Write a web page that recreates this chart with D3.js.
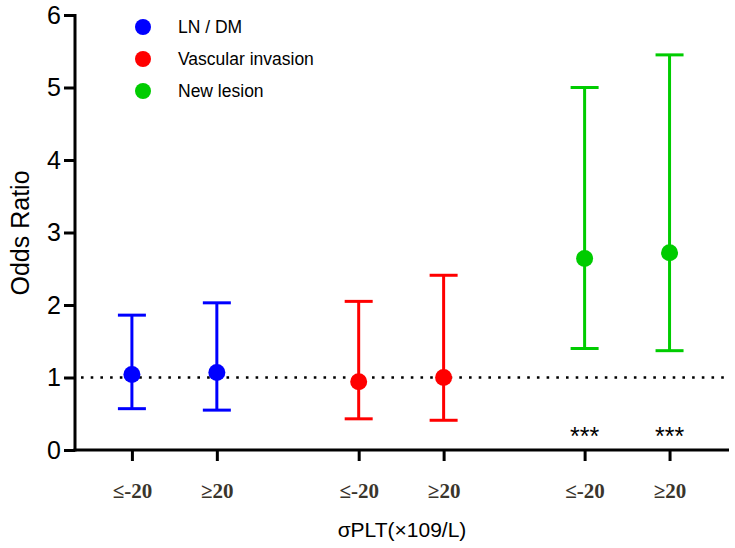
<!DOCTYPE html>
<html><head><meta charset="utf-8">
<script src="https://cdn.jsdelivr.net/npm/d3@7"></script>
<style>body{margin:0;background:#fff;}svg{display:block;}</style>
</head><body>
<script>
const categories = ["≤-20","≥20","≤-20","≥20","≤-20","≥20"];
const xPositions = [1, 2, 3.67, 4.67, 6.33, 7.33];
const seriesNames = ["LN / DM","Vascular invasion","New lesion"];
const seriesColors = ["#0000ff","#ff0000","#00cc00"];
const seriesIndex = [0,0,1,1,2,2];
const orValues = [1.04, 1.07, 0.94, 1.00, 2.64, 2.72];
const lowerCI = [0.57, 0.55, 0.43, 0.41, 1.40, 1.37];
const upperCI = [1.86, 2.03, 2.05, 2.41, 5.00, 5.45];
const stars = ["","","","","***","***"];
const yTicks = [0,1,2,3,4,5,6];

const W=735,H=548;
const sans="Arial, 'Liberation Sans', sans-serif";
const svg=d3.select("body").append("svg").attr("width",W).attr("height",H);
const x=d3.scaleLinear().domain([0.33,8.03]).range([75,729]);
const y=d3.scaleLinear().domain([0,6]).range([450,15]);

// reference line
svg.append("line").attr("x1",x(0.33)+6).attr("x2",x(8.03)).attr("y1",y(1)).attr("y2",y(1))
  .attr("stroke","#000").attr("stroke-width",2.6).attr("stroke-dasharray","2.6,7.1");

// y axis
const yAx=svg.append("g").attr("transform","translate(75,0)")
  .call(d3.axisLeft(y).tickValues(yTicks).tickFormat(d3.format("d")).tickSize(11).tickPadding(3));
yAx.select(".domain").attr("stroke-width",3).attr("d","M0,"+(y(6)-1)+"V"+(y(0)+1.5));
yAx.selectAll(".tick line").attr("stroke-width",3);
yAx.selectAll("text").attr("font-family",sans).attr("font-size",25).attr("fill","#000");

// x axis
const xAx=svg.append("g").attr("transform","translate(0,450)")
  .call(d3.axisBottom(x).tickValues(xPositions).tickFormat((d,i)=>categories[i]).tickSize(11).tickPadding(22));
xAx.select(".domain").attr("stroke-width",3).attr("d","M73.5,0H729");
xAx.selectAll(".tick line").attr("stroke-width",3);
xAx.selectAll("text").attr("font-family","'Times New Roman', 'Liberation Serif', serif").attr("font-weight","bold")
  .attr("font-size",21).attr("fill","#3a352c");

// error bars
const g=svg.append("g");
xPositions.forEach((p,i)=>{
  const c=seriesColors[seriesIndex[i]], cx=x(p), hw=14;
  g.append("line").attr("x1",cx).attr("x2",cx).attr("y1",y(lowerCI[i])).attr("y2",y(upperCI[i])).attr("stroke",c).attr("stroke-width",3);
  g.append("line").attr("x1",cx-hw).attr("x2",cx+hw).attr("y1",y(lowerCI[i])).attr("y2",y(lowerCI[i])).attr("stroke",c).attr("stroke-width",3);
  g.append("line").attr("x1",cx-hw).attr("x2",cx+hw).attr("y1",y(upperCI[i])).attr("y2",y(upperCI[i])).attr("stroke",c).attr("stroke-width",3);
  g.append("circle").attr("cx",cx).attr("cy",y(orValues[i])).attr("r",8.5).attr("fill",c);
  if(stars[i]) g.append("text").attr("x",cx).attr("y",y(0)-5).attr("text-anchor","middle")
     .attr("font-family",sans).attr("font-size",25).attr("fill","#000").text(stars[i]);
});

// legend
const leg=svg.append("g");
seriesNames.forEach((n,i)=>{
  const ly=27+i*32;
  leg.append("circle").attr("cx",143).attr("cy",ly).attr("r",8).attr("fill",seriesColors[i]);
  leg.append("text").attr("x",178).attr("y",ly+6).attr("font-family",sans)
    .attr("font-size",17.5).attr("fill","#000").text(n);
});

// axis titles
svg.append("text").attr("transform","translate(29,233) rotate(-90)").attr("text-anchor","middle")
  .attr("font-family",sans).attr("font-size",25).attr("fill","#000").text("Odds Ratio");
svg.append("text").attr("x",402).attr("y",537).attr("text-anchor","middle")
  .attr("font-family",sans).attr("font-size",21).attr("fill","#000").text("σPLT(×109/L)");
</script>
</body></html>
